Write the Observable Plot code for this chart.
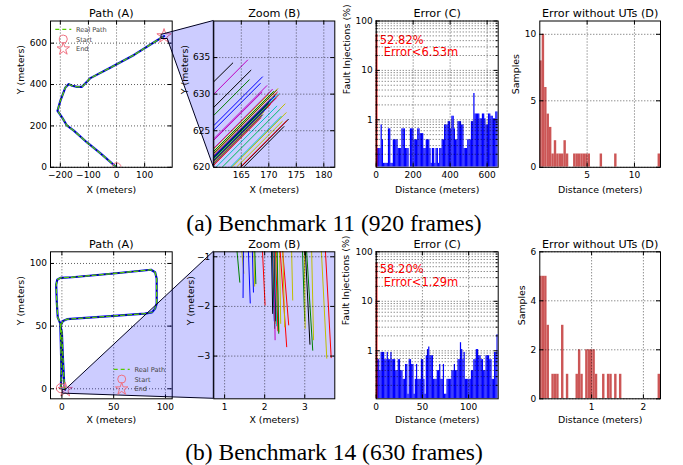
<!DOCTYPE html>
<html>
<head>
<meta charset="utf-8">
<script src="https://cdn.jsdelivr.net/npm/d3@7"></script>
<script src="https://cdn.jsdelivr.net/npm/@observablehq/plot@0.6"></script>
<style>
  body { margin: 0; background: #fff; }
  #fig { position: relative; width: 683px; height: 465px; overflow: hidden; background: #fff; }
  #fig svg { position: absolute; left: 0; top: 0; }
</style>
</head>
<body>
<div id="fig"></div>
<script>
const W = 683, H = 465;

// ---------------- DATA ----------------
// Path (A) – benchmark 11 trajectory (meters)
const pathTopA = [[0,0],[-57,67],[-105,120],[-152,177],[-176,201],[-194,241],[-210,273],[-200,321],[-182,386],[-170,402],[-158,394],[-140,389],[-123,389],[-102,418],[-93,431],[-21,482],[62,543],[145,614],[169,634]];
const startTopA = [0, 0];
const endTopA = [169, 634];
// Path (A) – benchmark 14 trajectory (meters)
const pathBotA = [[-1,0.5],[-0.5,15],[-1,35],[-1.5,50],[1,54],[5,55.5],[40,57.5],[80,60],[87,61],[90,64],[91.5,68],[91.5,88],[90,93],[86,95],[50,92],[10,89],[-1.5,88.5],[-4.5,87],[-5.5,83],[-5,70],[-4,57],[-2,53],[0,45],[1,25],[2,8],[2.5,0.5],[3.2,-0.8]];
const startBotA = [-1, 0.5];
const endBotA = [3.2, -0.8];

// trajectory series codes (matplotlib classic colour cycle)
const seriesCodes = ["b","g","r","c","m","y","k"];
const seriesColors = ["#0000ff","#008000","#ff0000","#00bfbf","#bf00bf","#bfbf00","#000000"];

// Zoom (B) – trajectory ends: [series, x1, y1, x2, y2]
const zoomTopSegs = [
  ["k",160,631.7,163.5,634.3],["m",160,630.0,166.2,634.7],["k",160,628.2,166.8,633.3],
  ["g",160,627.1,166.5,632.0],["b",160,625.7,168.9,632.4],["b",160,625.1,168.5,631.5],
  ["m",160,623.9,169.7,631.2],["m",160,623.7,168.8,630.3],["y",160,622.6,170.5,630.5],
  ["y",160,622.5,170.0,630.0],["m",160,622.6,170.7,630.7],["k",160,621.9,171.0,630.2],
  ["g",160,621.5,171.3,630.0],["r",160,621.6,171.6,630.3],["b",160,621.4,171.2,629.8],
  ["c",160,621.5,170.8,629.6],["m",160,620.9,171.4,629.5],["y",160,621.9,170.6,629.9],
  ["k",160,621.0,171.1,629.4],["g",160,622.2,170.9,630.4],["r",160,621.0,171.8,629.9],
  ["b",160,621.5,170.4,629.3],["k",160,621.9,171.5,630.6],["g",160,621.3,170.2,629.0],
  ["y",160,622.0,171.7,630.8],["c",160,621.1,171.9,630.1],["k",160,621.3,170.0,628.8],
  ["r",160,620.8,170.3,628.6],["g",160,620.9,169.8,628.3],["b",160,620.8,169.5,628.0],
  ["y",160,620.7,169.2,627.6],["k",160,620.5,168.9,627.2],["r",160,620.3,168.6,626.8],
  ["c",160.4,620,171.5,628.4],["y",161.5,620,173.0,628.7],["c",161.5,620,172.0,627.9],
  ["y",163.3,620,173.2,627.5],["c",163.0,620,172.3,627.0],["k",164.9,620,173.6,626.6],
  ["y",164.1,620,172.5,626.3],["k",165.4,620,172.8,625.6],["r",164.8,620,173.3,626.4]
];
const zoomBotSegs = [
  ["g",1.30,-0.8,1.38,-1.52],["y",1.42,-0.8,1.48,-1.34],["b",1.47,-0.8,1.46,-1.83],
  ["b",1.59,-0.8,1.64,-1.94],["b",1.69,-0.8,1.72,-1.72],["y",1.73,-0.8,1.75,-1.60],
  ["g",1.75,-0.8,1.78,-1.55],["r",1.94,-0.8,2.01,-1.98],["k",2.17,-0.8,2.20,-2.15],
  ["b",2.19,-0.8,2.24,-2.30],["g",2.20,-0.8,2.25,-2.45],["y",2.22,-0.8,2.27,-2.35],
  ["m",2.23,-0.8,2.26,-2.68],["k",2.24,-0.8,2.28,-2.30],["c",2.25,-0.8,2.30,-2.40],
  ["r",2.27,-0.8,2.33,-2.50],["y",2.29,-0.8,2.36,-2.52],["g",2.31,-0.8,2.35,-2.55],
  ["y",2.37,-0.8,2.40,-2.35],["r",2.38,-0.8,2.55,-2.82],["r",2.44,-0.8,2.60,-2.38],
  ["y",2.45,-0.8,2.50,-2.42],["y",2.67,-0.8,2.70,-1.88],["g",2.94,-0.8,3.00,-2.30],
  ["y",2.99,-0.8,3.01,-2.45],["k",3.01,-0.8,3.13,-2.77],["g",3.04,-0.8,3.20,-2.89],
  ["y",3.17,-0.8,3.22,-2.68],["y",3.41,-0.8,3.55,-3.05],["r",3.51,-0.8,3.66,-3.04]
];

// Error (C) – first bin (%) and injections per later bin (count of samples)
const errTopFirstPct = 52.82, errTopCutLabel = "Error<6.53m";
const errTopBinWidth = 6.6, errTopUnitPct = 0.131;
const errTopCounts = [2,2,2,6,3,1,1,1,1,5, 5,1,1,3,3,3,3,2,2,2, 5,5,5,2,2,2,0,5,5,5,
  3,3,3,5,5,4,4,4,2,2, 3,3,3,2,1,2,2,1,2,2, 1,2,2,3,3,6,6,6,7,7, 5,9,9,5,3,3,7,7,7,6,
  6,2,2,2,3,3,3,7,7,26, 10,10,10,10,8,8,10,10,8,6, 6,10,10,9,9,8,8,11,11];
const errBotFirstPct = 58.20, errBotCutLabel = "Error<1.29m";
const errBotBinWidth = 1.32, errBotUnitPct = 0.1323;
const errBotCounts = [5,5,3,7,7,7,5,5,7,5, 5,7,5,5,5,3,3,5,5,3, 3,2,2,4,4,1,5,5,4,4,
  1,2,4,2,2,2,5,5,2,1, 6,8,9,6,6,6,2,2,2,3, 3,4,2,2,4,1,1,2,2,2, 2,3,3,4,3,3,5,5,11,8,
  5,7,2,2,2,2,2,3,3,5, 5,8,8,6,6,5,5,3,3,6, 6,6,5,5,2,2,7,7,16];

// Error without UTs (D) – samples per bin
const utTopBinWidth = 0.255;
const utTopCounts = [8,10,6,4,3,1,2,1,1,1, 2,1,0,0,1,1,1,1,1,1, 1,0,0,0,0,1,0,0,0,0,
  0,1,0,0,0,0,0,0,0,0, 0,0,0,0,0,0,0,0,0,1];
const utBotBinWidth = 0.0466;
const utBotCounts = [5,5,5,3,0,1,1,1,0,3, 0,1,0,0,0,1,2,1,0,2, 2,2,2,1,0,0,1,0,1,1,
  0,1,0,1,0,0,0,0,0,0, 0,0,0,0,0,0,0,0,0,1];

// axis domains and ticks
const aTopX = [-235, 198], aTopY = [0, 707];
const aTopXTicks = [-200, -100, 0, 100], aTopYTicks = [0, 200, 400, 600];
const bTopX = [160, 182], bTopY = [620, 640];
const bTopXTicks = [165, 170, 175, 180], bTopYTicks = [620, 625, 630, 635];
const cTopX = [0, 660], cTopY = [0.109, 100];
const cTopXTicks = [0, 200, 400, 600];
const dTopX = [0, 12.75], dTopY = [0, 11];
const dTopXTicks = [5, 10], dTopYTicks = [0, 5, 10];

const aBotX = [-11, 106.5], aBotY = [-8, 109.3];
const aBotXTicks = [0, 50, 100], aBotYTicks = [0, 50, 100];
const bBotX = [0.73, 3.75], bBotY = [-3.86, -0.9];
const bBotXTicks = [1, 2, 3], bBotYTicks = [-3, -2, -1];
const cBotX = [0, 132], cBotY = [0.107, 100];
const cBotXTicks = [0, 50, 100];
const dBotX = [0, 2.33], dBotY = [0, 6];
const dBotXTicks = [1, 2], dBotYTicks = [0, 2, 4, 6];

const logMajor = [1, 10, 100];
const logMinor = [0.2,0.3,0.4,0.5,0.6,0.7,0.8,0.9, 2,3,4,5,6,7,8,9, 20,30,40,50,60,70,80,90];

const titles = ["Path (A)", "Zoom (B)", "Error (C)", "Error without UTs (D)"];
const captions = ["(a) Benchmark 11 (920 frames)", "(b) Benchmark 14 (630 frames)"];

// ---------------- LAYOUT ----------------
const colX = [[50, 171.7], [213.3, 334.3], [375.7, 497.7], [539.3, 660]];
const rowY = [[20.5, 166.8], [251.3, 398.3]];
const realPathColor = "#55cc00";
const markerColor = "#f07080";
const utColor = "#cc5656";
const intFormat = d3.format("d");

function panel(o) {
  const [l, r] = colX[o.col], [t, b] = rowY[o.row];
  const fw = r - l, fh = b - t;
  const grid = {stroke: "#000", strokeWidth: 0.7, strokeDasharray: "1,2", strokeOpacity: 0.9};
  const ym = o.yMinor || [];
  const svg = Plot.plot({
    width: W, height: H,
    marginLeft: l, marginRight: W - r, marginTop: t, marginBottom: H - b,
    style: {background: "none", fontFamily: "'DejaVu Sans', sans-serif", fontSize: "9px", color: "#000"},
    x: {domain: o.xDomain, axis: null},
    y: {domain: o.yDomain, type: o.yType || "linear", axis: null},
    color: {domain: seriesCodes, range: seriesColors},
    marks: [
      ...(o.back || []),
      ...o.marks,
      Plot.ruleX(o.xTicks, {x: d => d, ...grid}),
      Plot.ruleY(o.yTicks.concat(ym), {y: d => d, ...grid}),
      Plot.ruleX(o.xTicks, {x: d => d, stroke: "#000", insetTop: fh - 4}),
      Plot.ruleX(o.xTicks, {x: d => d, stroke: "#000", insetBottom: fh - 4}),
      Plot.ruleY(o.yTicks, {y: d => d, stroke: "#000", insetRight: fw - 4}),
      Plot.ruleY(o.yTicks, {y: d => d, stroke: "#000", insetLeft: fw - 4}),
      Plot.ruleY(ym, {y: d => d, stroke: "#000", insetRight: fw - 2}),
      Plot.ruleY(ym, {y: d => d, stroke: "#000", insetLeft: fw - 2}),
      Plot.frame({stroke: "#000", strokeWidth: 1}),
      Plot.axisX(o.xTicks, {tickSize: 0, tickPadding: 4.5, fontSize: 9, label: null, tickFormat: intFormat}),
      Plot.axisY(o.yTicks, {tickSize: 0, tickPadding: 3.5, fontSize: 9, label: null, tickFormat: intFormat}),
      Plot.text([titles[o.col]], {text: d => d, frameAnchor: "top", lineAnchor: "bottom", dy: -4, fontSize: 11.2}),
      Plot.text([o.xLabel], {text: d => d, frameAnchor: "bottom", lineAnchor: "bottom", dy: o.row === 0 ? 26 : 24, fontSize: 9.4}),
      Plot.text([o.yLabel], {text: d => d, frameAnchor: "left", lineAnchor: "bottom", rotate: -90, dx: o.yLabelDx, fontSize: 9.4})
    ]
  });
  return svg;
}

function pathMarks(path, start, end) {
  return [
    Plot.line(path, {x: d => d[0], y: d => d[1], stroke: "#0000ff", strokeWidth: 2.2, clip: true}),
    Plot.line(path, {x: d => d[0], y: d => d[1], stroke: "#000050", strokeWidth: 0.8, clip: true}),
    Plot.line(path, {x: d => d[0], y: d => d[1], stroke: realPathColor, strokeWidth: 1.3, strokeDasharray: "4,3", clip: true}),
    Plot.dot([start], {x: d => d[0], y: d => d[1], r: 4.5, stroke: markerColor, fill: "none", strokeWidth: 1, clip: true}),
    Plot.dot([end], {x: d => d[0], y: d => d[1], r: 4.5, symbol: "star", stroke: markerColor, fill: "none", strokeWidth: 1, clip: true})
  ];
}
function zoomMarks(segs) {
  return [Plot.link(segs, {x1: d => d[1], y1: d => d[2], x2: d => d[3], y2: d => d[4], stroke: d => d[0], strokeWidth: 1, clip: true})];
}
function errMarks(firstPct, counts, w, unit, yDom, cutLabel, row) {
  const bins = counts.map((c, i) => ({x1: (i + 1) * w, x2: (i + 2) * w, v: c * unit})).filter(d => d.v > 0);
  return [
    Plot.rectY(bins, {x1: "x1", x2: "x2", y1: yDom[0], y2: "v", fill: "#0000ff", clip: true}),
    Plot.rectY([firstPct], {x1: 0, x2: w, y1: yDom[0], y2: d => d, fill: "red", stroke: "red", strokeWidth: 1, clip: true}),
    Plot.text([firstPct], {text: d => d.toFixed(2) + "%", frameAnchor: "top-left", textAnchor: "start", lineAnchor: "bottom", dx: 3.6, dy: row === 0 ? 22.5 : 20.7, fill: "red", fontSize: 11.5}),
    Plot.text([cutLabel], {text: d => d, frameAnchor: "top-left", textAnchor: "start", lineAnchor: "bottom", dx: 7.6, dy: row === 0 ? 35 : 34, fill: "red", fontSize: 11.5})
  ];
}
function utMarks(counts, w) {
  const bins = counts.map((c, i) => ({x1: i * w, x2: (i + 1) * w, c})).filter(d => d.c > 0);
  return [Plot.rectY(bins, {x1: "x1", x2: "x2", y1: 0, y2: "c", fill: utColor, clip: true})];
}

const fig = document.getElementById("fig");

const aTop = panel({row: 0, col: 0, xDomain: aTopX, yDomain: aTopY, xTicks: aTopXTicks, yTicks: aTopYTicks,
  xLabel: "X (meters)", yLabel: "Y (meters)", yLabelDx: -26.5, marks: pathMarks(pathTopA, startTopA, endTopA)});
const aBot = panel({row: 1, col: 0, xDomain: aBotX, yDomain: aBotY, xTicks: aBotXTicks, yTicks: aBotYTicks,
  xLabel: "X (meters)", yLabel: "Y (meters)", yLabelDx: -27, marks: pathMarks(pathBotA, startBotA, endBotA)});
fig.append(aTop, aBot);

const bTop = panel({row: 0, col: 1, xDomain: bTopX, yDomain: bTopY, xTicks: bTopXTicks, yTicks: bTopYTicks,
  xLabel: "X (meters)", yLabel: "Y (meters)", yLabelDx: -26.3,
  back: [Plot.frame({fill: "#0000ff", fillOpacity: 0.2})], marks: zoomMarks(zoomTopSegs)});
const bBot = panel({row: 1, col: 1, xDomain: bBotX, yDomain: bBotY, xTicks: bBotXTicks, yTicks: bBotYTicks,
  xLabel: "X (meters)", yLabel: "Y (meters)", yLabelDx: -20,
  back: [Plot.frame({fill: "#0000ff", fillOpacity: 0.2})], marks: zoomMarks(zoomBotSegs)});

// connector polygons between Path (A) and Zoom (B), positioned with the plots' scales
const ov = d3.create("svg").attr("width", W).attr("height", H);
function P(plot, x, y) { return [plot.scale("x").apply(x), plot.scale("y").apply(y)]; }
const topPoly = [P(aTop, bTopX[0], bTopY[1]), P(bTop, bTopX[0], bTopY[1]), P(bTop, bTopX[0], bTopY[0]),
                 P(aTop, bTopX[1], bTopY[0]), P(aTop, bTopX[0], bTopY[0])];
const botPoly = [P(aBot, bBotX[1], bBotY[1]), P(bBot, bBotX[0], bBotY[1]), P(bBot, bBotX[0], bBotY[0]),
                 P(aBot, bBotX[0], bBotY[0]), P(aBot, bBotX[0], bBotY[1])];
for (const poly of [topPoly, botPoly]) {
  ov.append("polygon").attr("points", poly.map(p => p.join(",")).join(" "))
    .attr("fill", "#0000ff").attr("fill-opacity", 0.2)
    .attr("stroke", "#000020").attr("stroke-width", 1).attr("stroke-linejoin", "round");
}
fig.append(ov.node());
fig.append(bTop, bBot);

const cTop = panel({row: 0, col: 2, xDomain: cTopX, yDomain: cTopY, yType: "log", xTicks: cTopXTicks, yTicks: logMajor,
  yMinor: logMinor, xLabel: "Distance (meters)", yLabel: "Fault Injections (%)", yLabelDx: -26.7,
  marks: errMarks(errTopFirstPct, errTopCounts, errTopBinWidth, errTopUnitPct, cTopY, errTopCutLabel, 0)});
const cBot = panel({row: 1, col: 2, xDomain: cBotX, yDomain: cBotY, yType: "log", xTicks: cBotXTicks, yTicks: logMajor,
  yMinor: logMinor, xLabel: "Distance (meters)", yLabel: "Fault Injections (%)", yLabelDx: -27.5,
  marks: errMarks(errBotFirstPct, errBotCounts, errBotBinWidth, errBotUnitPct, cBotY, errBotCutLabel, 1)});
const dTop = panel({row: 0, col: 3, xDomain: dTopX, yDomain: dTopY, xTicks: dTopXTicks, yTicks: dTopYTicks,
  xLabel: "Distance (meters)", yLabel: "Samples", yLabelDx: -21, marks: utMarks(utTopCounts, utTopBinWidth)});
const dBot = panel({row: 1, col: 3, xDomain: dBotX, yDomain: dBotY, xTicks: dBotXTicks, yTicks: dBotYTicks,
  xLabel: "Distance (meters)", yLabel: "Samples", yLabelDx: -15, marks: utMarks(utBotCounts, utBotBinWidth)});
fig.append(cTop, cBot, dTop, dBot);

// legends (Path A) and captions
const topLayer = d3.create("svg").attr("width", W).attr("height", H);
function legend(g, x0, y0) {
  const items = ["Real Path", "Start", "End"];
  g.append("line").attr("x1", x0 - 8).attr("x2", x0 + 8).attr("y1", y0).attr("y2", y0)
    .attr("stroke", realPathColor).attr("stroke-width", 1.3).attr("stroke-dasharray", "4,3");
  g.append("circle").attr("cx", x0).attr("cy", y0 + 9.8).attr("r", 4)
    .attr("fill", "none").attr("stroke", markerColor);
  g.append("path").attr("d", d3.symbol(d3.symbolStar, 48)()).attr("transform", `translate(${x0},${y0 + 19.6})`)
    .attr("fill", "none").attr("stroke", markerColor);
  items.forEach((t, i) => g.append("text").attr("x", x0 + 12.7).attr("y", y0 + 2.4 + i * 9.8)
    .attr("font-family", "'DejaVu Sans', sans-serif").attr("font-size", 6.6).attr("fill", "#444").text(t));
}
legend(topLayer.append("g"), 63.3, 29.3);
legend(topLayer.append("g"), 121.7, 369.3);
captions.forEach((c, i) => topLayer.append("text").attr("x", 334).attr("y", i === 0 ? 231 : 460)
  .attr("text-anchor", "middle").attr("font-family", "'Liberation Serif', 'Times New Roman', serif")
  .attr("font-size", 23.5).attr("fill", "#000").text(c));
fig.append(topLayer.node());

for (const s of fig.querySelectorAll(":scope > svg")) { s.style.position = "absolute"; s.style.left = "0"; s.style.top = "0"; }
</script>
</body>
</html>
